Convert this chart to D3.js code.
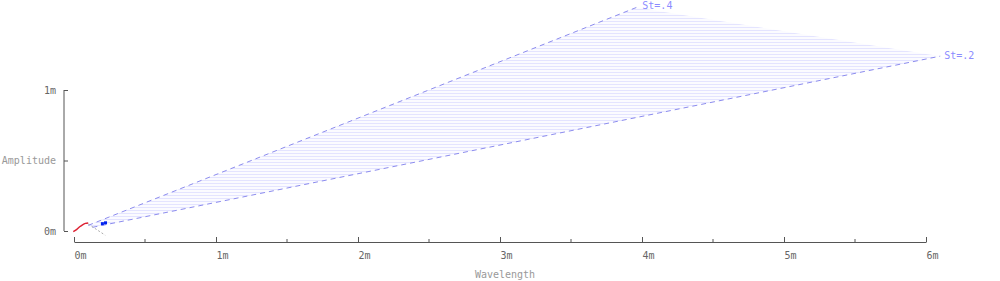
<!DOCTYPE html>
<html>
<head>
<meta charset="utf-8">
<script src="https://cdn.jsdelivr.net/npm/d3@7"></script>
<style>
  body { margin: 0; background: #fff; }
  text { font-family: "DejaVu Sans Mono", monospace; font-size: 10px; }
</style>
</head>
<body>
<div id="chart"></div>
<script>
// Data (metres)
const st4Wavelength = [0.1, 3.96];
const st4Amplitude = [0.04, 1.585];
const st2Wavelength = [0.13, 6.1];
const st2Amplitude = [0.026, 1.24];
const redWavelength = [-0.005, 0.02, 0.04, 0.06, 0.08, 0.1];
const redAmplitude = [-0.004, 0.012, 0.03, 0.044, 0.054, 0.057];
const greyWavelength = [0.1, 0.22];
const greyAmplitude = [0.05, -0.03];
const pointWavelength = [0.2, 0.222];
const pointAmplitude = [0.052, 0.058];
const xTicks = [0, 1, 2, 3, 4, 5, 6];
const xMinorTicks = [0.5, 1.5, 2.5, 3.5, 4.5, 5.5];
const yTicks = [0, 1];

const width = 1000, height = 281;

const svg = d3.select("#chart")
    .append("svg")
    .attr("width", width)
    .attr("height", height);

const x = d3.scaleLinear().domain([0, 6]).range([74, 926]);
const y = d3.scaleLinear().domain([0, 1]).range([231, 90]);

// hatch pattern for the St band
const defs = svg.append("defs");
const pat = defs.append("pattern")
    .attr("id", "hatch")
    .attr("patternUnits", "userSpaceOnUse")
    .attr("width", 8)
    .attr("height", 3);
pat.append("rect").attr("width", 8).attr("height", 3).attr("fill", "#fbfbff");
pat.append("rect").attr("width", 8).attr("height", 1).attr("fill", "#e4e4ff");

const zip = (xs, ys) => xs.map((v, i) => [v, ys[i]]);
const line = d3.line().x(d => x(d[0])).y(d => y(d[1]));

const st4 = zip(st4Wavelength, st4Amplitude);
const st2 = zip(st2Wavelength, st2Amplitude);

// band between the two St lines
svg.append("path")
    .attr("d", line(st4.concat(st2.slice().reverse())) + "Z")
    .attr("fill", "url(#hatch)")
    .attr("stroke", "none");

[st4, st2].forEach(d => {
    svg.append("path")
        .attr("d", line(d))
        .attr("fill", "none")
        .attr("stroke", "#8c8cee")
        .attr("stroke-width", 1)
        .attr("stroke-dasharray", "5,4");
});

svg.append("text")
    .attr("x", x(st4Wavelength[1]) + 6)
    .attr("y", y(st4Amplitude[1]) + 1)
    .attr("fill", "#8c8cff")
    .text("St=.4");

svg.append("text")
    .attr("x", x(st2Wavelength[1]) + 4)
    .attr("y", y(st2Amplitude[1]) + 3)
    .attr("fill", "#8c8cff")
    .text("St=.2");

// small measured series near the origin
svg.append("path")
    .attr("d", d3.line().x(d => x(d[0])).y(d => y(d[1])).curve(d3.curveMonotoneX)(zip(redWavelength, redAmplitude)))
    .attr("fill", "none")
    .attr("stroke", "#dd2233")
    .attr("stroke-width", 1.5);

svg.append("path")
    .attr("d", line(zip(greyWavelength, greyAmplitude)))
    .attr("fill", "none")
    .attr("stroke", "#aaaaaa")
    .attr("stroke-width", 1)
    .attr("stroke-dasharray", "2,2");

svg.selectAll(".pt")
    .data(zip(pointWavelength, pointAmplitude))
    .enter().append("rect")
    .attr("class", "pt")
    .attr("x", d => x(d[0]) - 1.5)
    .attr("y", d => y(d[1]) - 1.5)
    .attr("width", 3)
    .attr("height", 3)
    .attr("fill", "#0022ee");

// y axis (ticks pointing inward)
const yAxis = svg.append("g")
    .attr("transform", "translate(64,0)")
    .call(d3.axisLeft(y).tickValues([0, 0.5, 1]).tickSize(-4).tickSizeOuter(0)
        .tickPadding(8).tickFormat(d => d === 0.5 ? "" : d + "m"));
yAxis.select(".domain").attr("stroke", "#555").attr("d", `M0,${y(1)}V${y(0)}`);
yAxis.selectAll(".tick line").attr("stroke", "#555");
yAxis.selectAll(".tick text").attr("fill", "#666").style("font-size", "10px")
    .style("font-family", "DejaVu Sans Mono, monospace");

svg.append("text")
    .attr("x", 56)
    .attr("y", y(0.5))
    .attr("dy", "0.32em")
    .attr("text-anchor", "end")
    .attr("fill", "#999")
    .text("Amplitude");

// x axis
const xAxis = svg.append("g")
    .attr("transform", "translate(0,242)")
    .call(d3.axisBottom(x).tickValues(xTicks).tickSize(-5).tickSizeOuter(0)
        .tickPadding(10).tickFormat(d => d + "m"));
xAxis.select(".domain").attr("stroke", "#555");
xAxis.selectAll(".tick line").attr("stroke", "#555");
xAxis.selectAll(".tick text").attr("fill", "#666").attr("dx", 6).style("font-size", "10px")
    .style("font-family", "DejaVu Sans Mono, monospace");

xAxis.selectAll(".minor")
    .data(xMinorTicks)
    .enter().append("line")
    .attr("class", "minor")
    .attr("x1", d => x(d)).attr("x2", d => x(d))
    .attr("y1", 0).attr("y2", -3)
    .attr("stroke", "#555");

svg.append("text")
    .attr("x", 505)
    .attr("y", 278)
    .attr("text-anchor", "middle")
    .attr("fill", "#999")
    .text("Wavelength");
</script>
</body>
</html>
